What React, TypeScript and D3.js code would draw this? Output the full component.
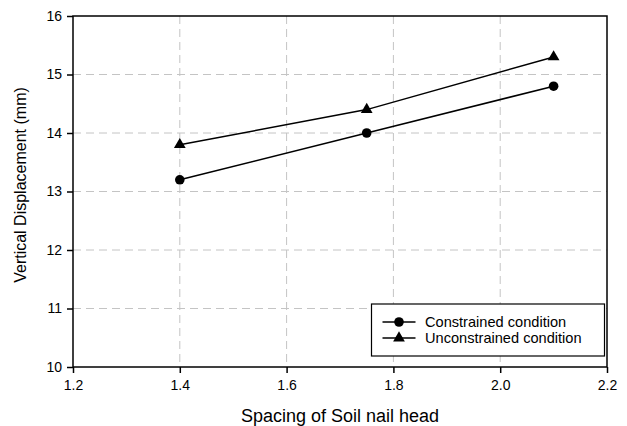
import * as d3 from 'd3';
import { useRef, useEffect } from 'react';

const spacing = [1.4, 1.75, 2.1];
const constrained = [13.2, 14.0, 14.8];
const unconstrained = [13.8, 14.4, 15.3];
const xTicks = [1.2, 1.4, 1.6, 1.8, 2.0, 2.2];
const yTicks = [10, 11, 12, 13, 14, 15, 16];
const seriesNames = ['Constrained condition', 'Unconstrained condition'];

const FONT = 'Liberation Sans, Arial, sans-serif';

export default function App() {
  const svgRef = useRef<SVGSVGElement | null>(null);

  useEffect(() => {
    const width = 627;
    const height = 426;
    const margin = { top: 16, right: 20, bottom: 59, left: 73 };
    const innerWidth = width - margin.left - margin.right;
    const innerHeight = height - margin.top - margin.bottom;

    d3.select(svgRef.current).selectAll('*').remove();

    const root = d3.select(svgRef.current).attr('width', width).attr('height', height);
    const svg = root.append('g').attr('transform', `translate(${margin.left},${margin.top})`);

    const x = d3.scaleLinear().domain([1.2, 2.2]).range([0, innerWidth]);
    const y = d3.scaleLinear().domain([10, 16]).range([innerHeight, 0]);

    // Grille pointillée
    xTicks.slice(1, -1).forEach((v) => {
      svg
        .append('line')
        .attr('x1', x(v))
        .attr('x2', x(v))
        .attr('y1', 0)
        .attr('y2', innerHeight)
        .attr('stroke', '#c4c4c4')
        .attr('stroke-dasharray', '8,5');
    });
    yTicks.slice(1, -1).forEach((v) => {
      svg
        .append('line')
        .attr('x1', 0)
        .attr('x2', innerWidth)
        .attr('y1', y(v))
        .attr('y2', y(v))
        .attr('stroke', '#c4c4c4')
        .attr('stroke-dasharray', '8,5');
    });

    // Cadre
    svg
      .append('rect')
      .attr('x', 0)
      .attr('y', 0)
      .attr('width', innerWidth)
      .attr('height', innerHeight)
      .attr('fill', 'none')
      .attr('stroke', '#000')
      .attr('stroke-width', 1.5);

    // Axes
    const xAxis = svg
      .append('g')
      .attr('transform', `translate(0,${innerHeight})`)
      .call(d3.axisBottom(x).tickValues(xTicks).tickSize(6).tickPadding(7.5).tickFormat(d3.format('.1f')));
    const yAxis = svg
      .append('g')
      .call(d3.axisLeft(y).tickValues(yTicks).tickSize(6).tickPadding(5).tickFormat(d3.format('d')));
    [xAxis, yAxis].forEach((ax) => {
      ax.select('.domain').remove();
      ax.selectAll('line').attr('stroke', '#000').attr('stroke-width', 1.5);
      ax.selectAll('text').attr('font-family', FONT).attr('font-size', '14px').attr('fill', '#000');
    });

    const line = d3
      .line<number>()
      .x((_, i) => x(spacing[i]))
      .y((d) => y(d));

    const triangle = d3.symbol().type(d3.symbolTriangle).size(60);

    const drawMarker = (g: any, kind: number, cx: number, cy: number) => {
      if (kind === 0) {
        g.append('circle').attr('cx', cx).attr('cy', cy).attr('r', 4.8).attr('fill', '#000');
      } else {
        g.append('path')
          .attr('d', triangle() as string)
          .attr('transform', `translate(${cx},${cy})`)
          .attr('fill', '#000');
      }
    };

    [constrained, unconstrained].forEach((vals, k) => {
      svg
        .append('path')
        .attr('d', line(vals) as string)
        .attr('fill', 'none')
        .attr('stroke', '#000')
        .attr('stroke-width', 1.5);
      vals.forEach((v, i) => drawMarker(svg, k, x(spacing[i]), y(v)));
    });

    // Légende
    const legend = svg.append('g').attr('transform', `translate(${371.5 - margin.left},${304 - margin.top})`);
    legend
      .append('rect')
      .attr('width', 233)
      .attr('height', 52)
      .attr('fill', '#fff')
      .attr('stroke', '#000')
      .attr('stroke-width', 1.2);
    seriesNames.forEach((name, k) => {
      const ly = 18 + k * 16;
      legend
        .append('line')
        .attr('x1', 11)
        .attr('x2', 44)
        .attr('y1', ly)
        .attr('y2', ly)
        .attr('stroke', '#000')
        .attr('stroke-width', 1.5);
      drawMarker(legend, k, 27.5, ly);
      legend
        .append('text')
        .attr('x', 53.5)
        .attr('y', ly + 5)
        .attr('font-family', FONT)
        .attr('font-size', '14.6px')
        .attr('fill', '#000')
        .text(name);
    });

    // Titres des axes
    root
      .append('text')
      .attr('x', margin.left + innerWidth / 2)
      .attr('y', 421.5)
      .attr('text-anchor', 'middle')
      .attr('font-family', FONT)
      .attr('font-size', '18px')
      .attr('fill', '#000')
      .text('Spacing of Soil nail head');

    root
      .append('text')
      .attr('transform', `translate(26,185) rotate(-90)`)
      .attr('text-anchor', 'middle')
      .attr('font-family', FONT)
      .attr('font-size', '16px')
      .attr('fill', '#000')
      .text('Vertical Displacement (mm)');
  }, []);

  return (
    <div style={{ position: 'absolute', left: 0, top: 0 }}>
      <svg ref={svgRef} style={{ display: 'block' }} />
    </div>
  );
}
